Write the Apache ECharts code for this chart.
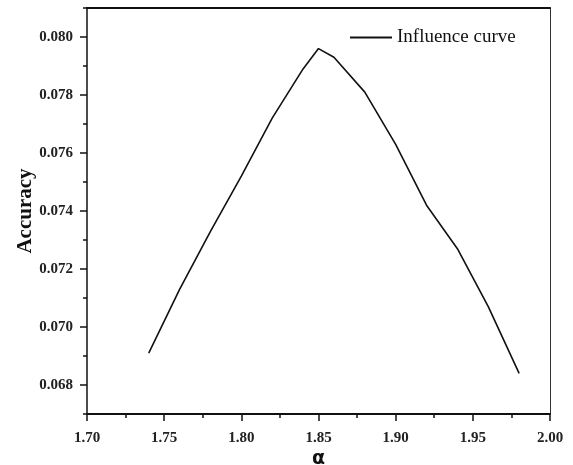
<!DOCTYPE html>
<html lang="en">
<head>
    <meta charset="UTF-8">
    <title>Influence curve</title>
    <script src="https://cdn.jsdelivr.net/npm/echarts@6/dist/echarts.min.js"></script>
</head>
<body style="margin:0;background:#fff;">
    <div id="main" style="width: 573px;height:465px;"></div>
    <script type="text/javascript">

        // values
        const alphaValues = [1.74, 1.76, 1.78, 1.80, 1.82, 1.84, 1.85, 1.86, 1.88, 1.90, 1.92, 1.94, 1.96, 1.98];
        const accuracyValues = [0.0691, 0.0713, 0.0733, 0.0752, 0.0772, 0.0789, 0.0796, 0.0793, 0.0781, 0.0763, 0.0742, 0.0727, 0.0707, 0.0684];
        const yMajorTicks = [0.068, 0.070, 0.072, 0.074, 0.076, 0.078, 0.080];
        const yMinorTicks = [0.067, 0.069, 0.071, 0.073, 0.075, 0.077, 0.079, 0.081];
        const seriesName = 'Influence curve';

        var chartDom = document.getElementById('main');
        var myChart = echarts.init(chartDom);
        var option;

        var serif = 'Liberation Serif';
        var blank = { show: false };

        var points = alphaValues.map(function (a, i) {
            return [a, accuracyValues[i]];
        });

        option = {
            animation: false,
            backgroundColor: '#fff',
            grid: {
                left: 87,
                right: 23,
                top: 8,
                bottom: 51,
                outerBoundsMode: 'none',
                containLabel: false
            },
            legend: {
                left: 345,
                top: 23,
                icon: 'rect',
                itemWidth: 42,
                itemHeight: 2,
                itemGap: 5,
                textStyle: { fontFamily: serif, fontSize: 19, color: '#111', padding: [0, 0, 0, 0] },
                data: [seriesName]
            },
            xAxis: [
                {
                    type: 'value',
                    position: 'bottom',
                    min: 1.70,
                    max: 2.00,
                    interval: 0.05,
                    name: 'α',
                    nameLocation: 'middle',
                    nameGap: 36,
                    nameMoveOverlap: false,
                    nameTextStyle: { fontFamily: 'DejaVu Sans', fontSize: 19, fontWeight: 'bold', color: '#111' },
                    axisLine: { lineStyle: { color: '#111', width: 2 } },
                    axisTick: { length: 7, lineStyle: { color: '#111', width: 1.5 } },
                    minorTick: { show: true, splitNumber: 2, length: 4, lineStyle: { color: '#111', width: 1.5 } },
                    axisLabel: {
                        margin: 17,
                        fontFamily: serif,
                        fontWeight: 'bold',
                        fontSize: 15,
                        color: '#222',
                        formatter: function (v) { return v.toFixed(2); }
                    },
                    splitLine: blank
                },
                {
                    type: 'value',
                    position: 'top',
                    min: 1.70,
                    max: 2.00,
                    axisLine: { lineStyle: { color: '#111', width: 2 } },
                    axisTick: blank,
                    axisLabel: blank,
                    splitLine: blank
                }
            ],
            yAxis: [
                {
                    type: 'value',
                    position: 'left',
                    min: 0.067,
                    max: 0.081,
                    name: 'Accuracy',
                    nameLocation: 'middle',
                    nameGap: 51,
                    nameMoveOverlap: false,
                    nameTextStyle: { fontFamily: serif, fontWeight: 'bold', fontSize: 21, color: '#111' },
                    axisLine: { lineStyle: { color: '#111', width: 1.5 } },
                    axisTick: { length: 7, customValues: yMajorTicks, lineStyle: { color: '#111', width: 1.5 } },
                    axisLabel: {
                        margin: 14,
                        customValues: yMajorTicks,
                        fontFamily: serif,
                        fontWeight: 'bold',
                        fontSize: 15,
                        color: '#222',
                        formatter: function (v) { return v.toFixed(3); }
                    },
                    splitLine: blank
                },
                {
                    type: 'value',
                    position: 'left',
                    min: 0.067,
                    max: 0.081,
                    axisLine: blank,
                    axisTick: { length: 4, customValues: yMinorTicks, lineStyle: { color: '#111', width: 1.5 } },
                    axisLabel: blank,
                    splitLine: blank
                },
                {
                    type: 'value',
                    position: 'right',
                    min: 0.067,
                    max: 0.081,
                    axisLine: { show: true, lineStyle: { color: '#333', width: 1 } },
                    axisTick: blank,
                    axisLabel: blank,
                    splitLine: blank
                }
            ],
            series: [
                {
                    name: seriesName,
                    type: 'line',
                    xAxisIndex: 0,
                    yAxisIndex: 0,
                    symbol: 'none',
                    color: '#111',
                    lineStyle: { color: '#111', width: 1.6 },
                    data: points
                }
            ]
        };

        option && myChart.setOption(option);

    </script>
</body>
</html>
